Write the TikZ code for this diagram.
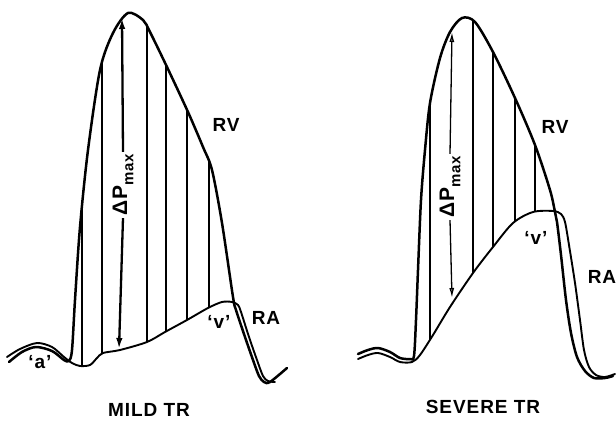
\documentclass[tikz,border=0pt]{standalone}
\usepackage{fontspec}
\setmainfont{Liberation Sans}
\newfontfamily\lblfont[LetterSpace=5]{Liberation Sans}
\usetikzlibrary{arrows.meta}
\tikzset{
  rvline/.style={line width=2.5pt, line cap=round, line join=round},
  raline/.style={line width=1.9pt, line cap=round, line join=round},
  hatchline/.style={line width=1.2pt},
  lbl/.style={font=\lblfont\bfseries\fontsize{19}{21}\selectfont, inner sep=0pt},
  dplbl/.style={font=\lblfont\bfseries\fontsize{21}{22}\selectfont, rotate=90, fill=white, inner sep=2pt},
  bigarrow/.style={line width=2.3pt, -{Latex[length=11pt,width=6.5pt]}},
  thinarrow/.style={line width=1.3pt, -{Latex[open,length=10pt,width=5pt]}}
}
\newcommand{\dpmax}{ΔP\raisebox{-0.3em}{\fontsize{15}{15}\selectfont max}}
\begin{document}
\begin{tikzpicture}[x=1pt,y=-1pt]
\useasboundingbox (0,0) rectangle (616,422);

% ---------- MILD TR ----------
\begin{scope}
\clip plot[smooth] coordinates {(9,362) (22,352) (36,347) (52,351) (64,360) (69,361) (72,350) (75,300) (80,227) (88,150) (100,70) (113,33) (128,13) (143,20) (150,32) (167,67) (188,112) (203,147) (212,170) (222,223) (233,297) (236,310) (245,337) (253,360) (259,376) (264,382) (270,382) (287,368)} -- (300,430) -- (0,430) -- cycle;
\clip plot[smooth] coordinates {(7,357) (20,349) (37,343) (52,347) (64,357) (72,363) (80,366) (90,365) (97,358) (103,353) (120,350) (147,342) (165,332) (187,320) (208,308) (222,302) (232,302) (238,305) (241,312) (249,337) (257,360) (263,376) (268,381) (275,382)} -- (300,-10) -- (0,-10) -- cycle;
\foreach \x in {82,102,147,166,187,209} \draw[hatchline] (\x,0) -- (\x,420);
\end{scope}
\draw[raline] plot[smooth] coordinates {(7,357) (20,349) (37,343) (52,347) (64,357) (72,363) (80,366) (90,365) (97,358) (103,353) (120,350) (147,342) (165,332) (187,320) (208,308) (222,302) (232,302) (238,305) (241,312) (249,337) (257,360) (263,376) (268,381) (275,382)};
\draw[rvline] plot[smooth] coordinates {(9,362) (22,352) (36,347) (52,351) (64,360) (69,361) (72,350) (75,300) (80,227) (88,150) (100,70) (113,33) (128,13) (143,20) (150,32) (167,67) (188,112) (203,147) (212,170) (222,223) (233,297) (236,310) (245,337) (253,360) (259,376) (264,382) (270,382) (287,368)};

\node[dplbl] (dpL) at (123,185) {\dpmax};
\coordinate (dpLtop) at (122,18);
\coordinate (dpLbot) at (119,349);
\draw[bigarrow] (dpL.east) -- (dpLtop);
\draw[bigarrow] (dpL.west) -- (dpLbot);

\node[lbl] (rvL) at (226,125) {RV};
\node[lbl] (raL) at (266,318) {RA};
\node[lbl] (vL) at (219,322) {‘v’};
\node[lbl] (aL) at (40,362) {‘a’};
\node[lbl] (mild) at (149,410) {MILD TR};

% ---------- SEVERE TR ----------
\begin{scope}
\clip plot[smooth] coordinates {(358,354) (368,350) (378,348) (390,352) (400,358) (410,359) (414,356) (416,320) (418,270) (421,200) (425,150) (430,103) (440,58) (450,32) (462,18) (475,22) (493,52) (515,98) (535,145) (550,190) (555,212) (557,222) (561,255) (566,300) (571,333) (577,357) (585,371) (594,378) (605,378) (613,376)} -- (620,430) -- (340,430) -- cycle;
\clip plot[smooth] coordinates {(358,359) (368,355) (378,353) (390,357) (400,362) (412,362) (420,355) (433,335) (450,307) (473,273) (493,247) (513,223) (533,212) (553,211) (561,214) (565,222) (569,245) (575,283) (580,320) (584,350) (589,367) (596,375) (605,377) (615,374)} -- (620,-10) -- (340,-10) -- cycle;
\foreach \x in {430,473,493,515,535} \draw[hatchline] (\x,0) -- (\x,420);
\end{scope}
\draw[raline] plot[smooth] coordinates {(358,359) (368,355) (378,353) (390,357) (400,362) (412,362) (420,355) (433,335) (450,307) (473,273) (493,247) (513,223) (533,212) (553,211) (561,214) (565,222) (569,245) (575,283) (580,320) (584,350) (589,367) (596,375) (605,377) (615,374)};
\draw[rvline] plot[smooth] coordinates {(358,354) (368,350) (378,348) (390,352) (400,358) (410,359) (414,356) (416,320) (418,270) (421,200) (425,150) (430,103) (440,58) (450,32) (462,18) (475,22) (493,52) (515,98) (535,145) (550,190) (555,212) (557,222) (561,255) (566,300) (571,333) (577,357) (585,371) (594,378) (605,378) (613,376)};

\node[dplbl] (dpR) at (450,187) {\dpmax};
\coordinate (dpRtop) at (452,32);
\coordinate (dpRbot) at (452,298);
\draw[thinarrow] (dpR.east) -- (dpRtop);
\draw[thinarrow] (dpR.west) -- (dpRbot);

\node[lbl] (rvR) at (555,127) {RV};
\node[lbl] (raR) at (602,277) {RA};
\node[lbl] (vR) at (536,238) {‘v’};
\node[lbl] (severe) at (483,407) {SEVERE TR};
\end{tikzpicture}
\end{document}
